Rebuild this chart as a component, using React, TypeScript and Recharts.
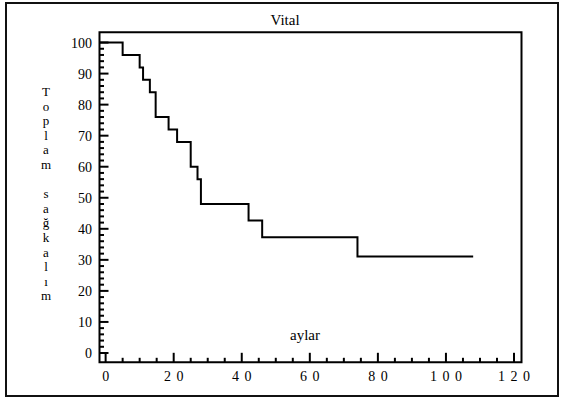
import React from "react";
import { LineChart, Line, XAxis, YAxis, ReferenceArea } from "recharts";

// Kaplan-Meier steps: time of each drop (months) and survival (%) after it
const months = [-1.8, 5, 10, 11, 13, 14.7, 18.5, 21, 25, 27, 28, 42, 46, 74, 108];
const survival = [100, 96, 92, 88, 84, 76, 72, 68, 60, 56, 48, 42.7, 37.3, 31.1, 31.1];

const xTicks = [0, 5, 10, 15, 20, 25, 30, 35, 40, 45, 50, 55, 60, 65, 70, 75, 80, 85, 90, 95, 100, 105, 110, 115, 120];
const yTicks = [
  0, 2, 4, 6, 8, 10, 12, 14, 16, 18, 20, 22, 24, 26, 28, 30, 32, 34, 36, 38, 40, 42, 44, 46, 48, 50,
  52, 54, 56, 58, 60, 62, 64, 66, 68, 70, 72, 74, 76, 78, 80, 82, 84, 86, 88, 90, 92, 94, 96, 98, 100,
];

const title = "Vital";
const xLabel = "aylar";
const yLabel = "Toplam sağkalım";

const X_DOMAIN: [number, number] = [-1.8, 122.2];
const Y_DOMAIN: [number, number] = [-3, 103.3];

const data = months.map((m, i) => ({ m, s: survival[i] }));

const FONT = '"Liberation Serif", "Times New Roman", serif';

function renderXTick(props: any) {
  const { x, y, payload } = props;
  const major = payload.value % 20 === 0;
  return (
    <g key={`xt-${payload.value}`}>
      <line x1={x} x2={x} y1={y} y2={y - (major ? 9.5 : 4.5)} stroke="#000" strokeWidth={2} />
      {major && (
        <text
          x={x + 2.75}
          y={y + 19}
          textAnchor="middle"
          fontFamily={FONT}
          fontSize={14}
          letterSpacing={5.5}
          fill="#000"
        >
          {payload.value}
        </text>
      )}
    </g>
  );
}

function renderYTick(props: any) {
  const { x, y, payload } = props;
  const major = payload.value % 10 === 0;
  return (
    <g key={`yt-${payload.value}`}>
      <line x1={x} x2={x + (major ? 9 : 4.5)} y1={y} y2={y} stroke="#000" strokeWidth={2} />
      {major && (
        <text x={x - 7.5} y={y + 5} textAnchor="end" fontFamily={FONT} fontSize={14} fill="#000">
          {payload.value}
        </text>
      )}
    </g>
  );
}

export default function App() {
  return (
    <div style={{ position: "absolute", left: 0, top: 0, width: 563, height: 399, background: "#fff" }}>
      <div
        style={{
          position: "absolute",
          left: 5,
          top: 2,
          width: 550,
          height: 391,
          border: "2px solid #111",
        }}
      />
      <LineChart
        width={563}
        height={399}
        data={data}
        margin={{ top: 32.3, right: 41.5, left: 98.5, bottom: 35.7 }}
        style={{ position: "absolute", left: 0, top: 0 }}
      >
        <XAxis
          dataKey="m"
          type="number"
          domain={X_DOMAIN}
          allowDataOverflow
          ticks={xTicks}
          interval={0}
          height={1}
          tickSize={0}
          tickMargin={0}
          tickLine={false}
          axisLine={false}
          tick={renderXTick}
        />
        <YAxis
          type="number"
          domain={Y_DOMAIN}
          allowDataOverflow
          ticks={yTicks}
          interval={0}
          width={1}
          tickSize={0}
          tickMargin={0}
          tickLine={false}
          axisLine={false}
          tick={renderYTick}
        />
        <Line
          type="stepAfter"
          dataKey="s"
          stroke="#000"
          strokeWidth={2}
          dot={false}
          isAnimationActive={false}
        />
        <ReferenceArea
          x1={X_DOMAIN[0]}
          x2={X_DOMAIN[1]}
          y1={Y_DOMAIN[0]}
          y2={Y_DOMAIN[1]}
          fill="none"
          fillOpacity={0}
          stroke="#000"
          strokeWidth={2}
          ifOverflow="visible"
        />
      </LineChart>
      <svg
        width={563}
        height={399}
        style={{ position: "absolute", left: 0, top: 0, pointerEvents: "none" }}
      >
        <text x={285} y={25} textAnchor="middle" fontFamily={FONT} fontSize={15} fill="#000">
          {title}
        </text>
        <text x={305} y={340} textAnchor="middle" fontFamily={FONT} fontSize={15} fill="#000">
          {xLabel}
        </text>
        <text x={46} y={96} textAnchor="middle" fontFamily={FONT} fontSize={13} fill="#000">
          {yLabel.split("").map((ch, i) => (
            <tspan key={i} x={46} dy={i === 0 ? 0 : 14.6}>
              {ch === " " ? "\u00a0" : ch}
            </tspan>
          ))}
        </text>
      </svg>
    </div>
  );
}
